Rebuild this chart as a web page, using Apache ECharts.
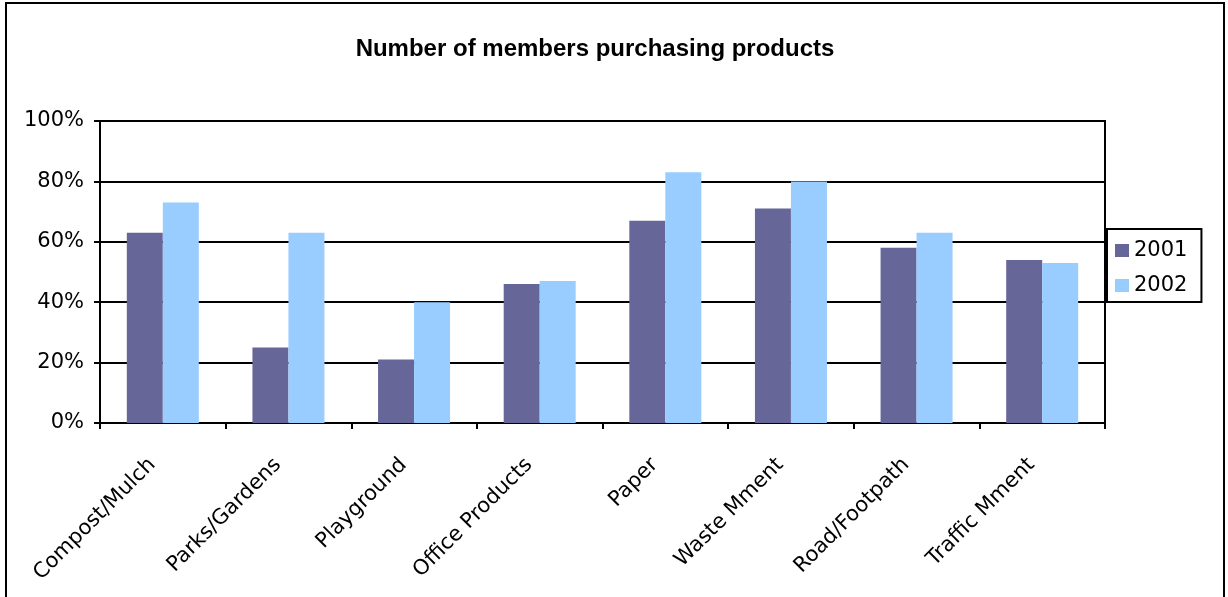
<!DOCTYPE html>
<html>
<head>
<meta charset="utf-8">
<script src="https://cdn.jsdelivr.net/npm/echarts@6/dist/echarts.min.js"></script>
<style>
html,body{margin:0;padding:0;background:#fff;}
#chart{width:1228px;height:597px;}
</style>
</head>
<body>
<div id="chart"></div>
<script>
const categories = ['Compost/Mulch','Parks/Gardens','Playground','Office Products','Paper','Waste Mment','Road/Footpath','Traffic Mment'];
const series2001 = [0.63,0.25,0.21,0.46,0.67,0.71,0.58,0.54];
const series2002 = [0.73,0.63,0.40,0.47,0.83,0.80,0.63,0.53];
const seriesNames = ['2001','2002'];
const yTicks = [0,0.2,0.4,0.6,0.8,1.0];

const chart = echarts.init(document.getElementById('chart'), null, {renderer:'canvas'});
const font = 'DejaVu Sans';
chart.setOption({
  backgroundColor:'#fff',
  animation:false,
  title:{
    text:'Number of members purchasing products',
    left:590, textAlign:'center', top:32,
    textStyle:{fontFamily:'Liberation Sans', fontWeight:'bold', fontSize:24, color:'#000'}
  },
  graphic:[{
    type:'rect', shape:{x:6,y:3,width:1218,height:700},
    style:{fill:null, stroke:'#000', lineWidth:2}, silent:true
  }],
  legend:{
    orient:'vertical', left:1107, top:229,
    data:seriesNames,
    borderColor:'#000', borderWidth:2,
    padding:[11,14,6,8],
    itemWidth:14, itemHeight:13, itemGap:14,
    textStyle:{fontFamily:font, fontSize:21, color:'#000'},
    icon:'rect'
  },
  grid:{left:100, right:123, top:121, bottom:174, show:true, borderColor:'#000', borderWidth:2},
  xAxis:{
    type:'category', data:categories,
    axisLine:{lineStyle:{color:'#000', width:2}},
    axisTick:{show:true, length:6, lineStyle:{color:'#000', width:2}},
    axisLabel:{rotate:45, interval:0, margin:28, padding:[0,15,0,0], fontFamily:font, fontSize:21, color:'#000'}
  },
  yAxis:{
    type:'value', min:0, max:1, interval:0.2,
    axisLine:{show:true, lineStyle:{color:'#000', width:2}},
    axisTick:{show:true, length:6, lineStyle:{color:'#000', width:2}},
    splitLine:{show:true, lineStyle:{color:'#000', width:2}},
    axisLabel:{margin:16, fontFamily:font, fontSize:21, color:'#000',
      formatter:v=>Math.round(v*100)+'%'}
  },
  series:[
    {name:seriesNames[0], type:'bar', data:series2001, barWidth:36, barGap:'0%', itemStyle:{color:'#666699'}},
    {name:seriesNames[1], type:'bar', data:series2002, barWidth:36, barGap:'0%', itemStyle:{color:'#99CCFF'}}
  ]
});
</script>
</body>
</html>
